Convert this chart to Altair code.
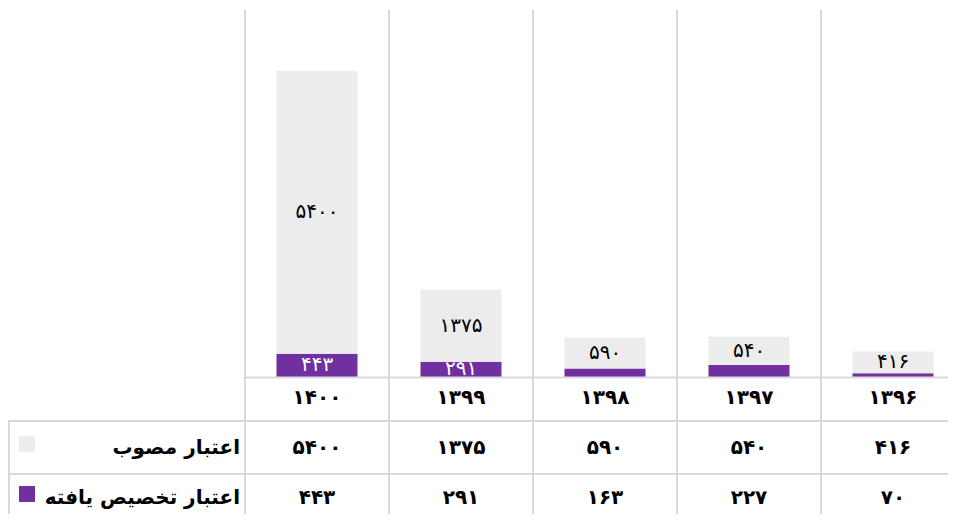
import altair as alt
import pandas as pd

# ---- data ----
years = ["۱۴۰۰", "۱۳۹۹", "۱۳۹۸", "۱۳۹۷", "۱۳۹۶"]
approved = [5400, 1375, 590, 540, 416]     # اعتبار مصوب
allocated = [443, 291, 163, 227, 70]       # اعتبار تخصیص یافته
series_names = ["اعتبار مصوب", "اعتبار تخصیص یافته"]
series_colors = ["#ececec", "#7030a0"]
row_keys = ["year", "approved", "allocated"]

FA = str.maketrans("0123456789", "۰۱۲۳۴۵۶۷۸۹")


def fa(n):
    return str(n).translate(FA)


FONT = "DejaVu Sans"
LINE = "#d9d9d9"

# long table for stacked bars (allocated at the bottom, approved stacked on top)
bars_rows = []
for y, a, b in zip(years, approved, allocated):
    bars_rows.append({"year": y, "series": series_names[1], "value": b, "ord": 0,
                      "label": fa(b), "txtcol": "white"})
    bars_rows.append({"year": y, "series": series_names[0], "value": a, "ord": 1,
                      "label": fa(a), "txtcol": "black"})
bars_df = pd.DataFrame(bars_rows)

table_rows = []
for y, a, b in zip(years, approved, allocated):
    table_rows.append({"year": y, "row": "year", "text": y})
    table_rows.append({"year": y, "row": "approved", "text": fa(a)})
    table_rows.append({"year": y, "row": "allocated", "text": fa(b)})
table_df = pd.DataFrame(table_rows)

legend_df = pd.DataFrame({"row": ["approved", "allocated"], "series": series_names})
grid_df = pd.DataFrame({"year": years})
one = pd.DataFrame({"k": [0]})

xscale = alt.Scale(domain=years, range=[237, 957], paddingInner=0, paddingOuter=0)
yscale = alt.Scale(domain=[0, 7000], range=[369, 2.5])
rowscale = alt.Scale(domain=row_keys, range=[390, 490], padding=0)
cscale = alt.Scale(domain=series_names, range=series_colors)

stacked = alt.Chart(bars_df).transform_stack(
    stack="value", groupby=["year"], as_=["v0", "v1"],
    sort=[alt.SortField("ord", order="ascending")]
).transform_calculate(mid="(datum.v0 + datum.v1) / 2")

bars = stacked.mark_bar(width={"band": 0.5625}).encode(
    x=alt.X("year:N", scale=xscale, axis=None, sort=years),
    y=alt.Y("v1:Q", scale=yscale, axis=None),
    y2="v0:Q",
    color=alt.Color("series:N", scale=cscale, legend=None),
)

bar_labels = stacked.transform_filter("datum.value >= 250").mark_text(
    font=FONT, fontSize=20, baseline="middle", align="center"
).encode(
    x=alt.X("year:N", scale=xscale, axis=None, sort=years),
    y=alt.Y("mid:Q", scale=yscale, axis=None),
    text="label:N",
    color=alt.Color("txtcol:N", scale=None, legend=None),
)

vgrid = alt.Chart(grid_df).mark_rule(color=LINE, strokeWidth=2).encode(
    x=alt.X("year:N", scale=xscale, axis=None, sort=years, bandPosition=0),
    y=alt.value(2),
    y2=alt.value(506),
)

hline0 = alt.Chart(one).mark_rule(color=LINE, strokeWidth=2).encode(
    x=alt.value(237), x2=alt.value(940), y=alt.value(369.5))
hline1 = alt.Chart(one).mark_rule(color=LINE, strokeWidth=2).encode(
    x=alt.value(0), x2=alt.value(940), y=alt.value(413))
hline2 = alt.Chart(one).mark_rule(color=LINE, strokeWidth=2).encode(
    x=alt.value(0), x2=alt.value(940), y=alt.value(466))
vleft = alt.Chart(one).mark_rule(color=LINE, strokeWidth=2).encode(
    x=alt.value(1), y=alt.value(412), y2=alt.value(506))

table_text = alt.Chart(table_df).mark_text(
    font=FONT, fontSize=20, fontWeight="bold", baseline="middle", align="center"
).encode(
    x=alt.X("year:N", scale=xscale, axis=None, sort=years),
    y=alt.Y("row:N", scale=rowscale, axis=None),
    text="text:N",
    color=alt.value("black"),
)

row_labels = alt.Chart(legend_df).mark_text(
    font=FONT, fontSize=20, fontWeight="bold", baseline="middle", align="right"
).encode(
    x=alt.value(232),
    y=alt.Y("row:N", scale=rowscale, axis=None),
    text="series:N",
    color=alt.value("black"),
)

legend_keys = alt.Chart(legend_df).mark_square(size=256, opacity=1).encode(
    x=alt.value(19),
    y=alt.Y("row:N", scale=rowscale, axis=None),
    yOffset=alt.value(-4),
    color=alt.Color("series:N", scale=cscale, legend=None),
)

chart = alt.layer(
    bars, bar_labels, vgrid, hline0, hline1, hline2, vleft,
    table_text, row_labels, legend_keys
).resolve_scale(
    y="independent"
).properties(
    width=940, height=506, autosize="none", padding=0
).configure_view(stroke=None)

chart.save("out.html", embed_options={"renderer": "svg", "actions": False})
